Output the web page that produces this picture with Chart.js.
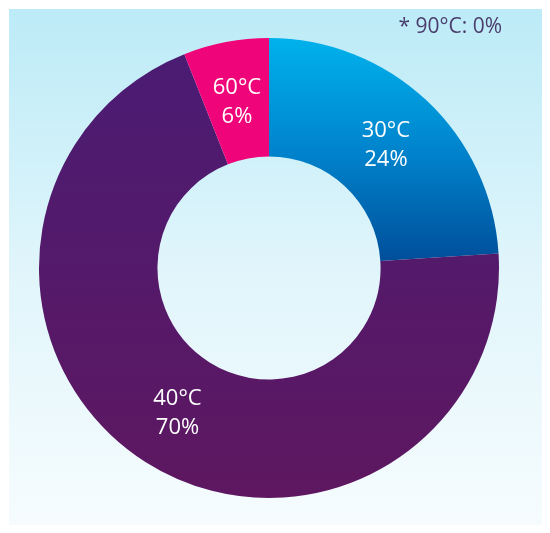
<!DOCTYPE html>
<html>
<head>
<meta charset="utf-8">
<script src="https://cdn.jsdelivr.net/npm/chart.js@4.4.1/dist/chart.umd.min.js"></script>
<style>
  html, body { margin: 0; padding: 0; background: #ffffff; }
  #wrap { width: 550px; height: 533px; }
</style>
</head>
<body>
<div id="wrap"><canvas id="c" width="550" height="533"></canvas></div>
<script>
const categories = ['30°C', '40°C', '60°C', '90°C'];
const shares = [24, 70, 6, 0];
const footnoteCategory = '90°C';

const FONT = '"Open Sans", "Noto Sans", sans-serif';

function segColor(ctx) {
  const chart = ctx.chart;
  const area = chart.chartArea;
  if (!area) return '#521a6a';
  const c = chart.ctx;
  const i = ctx.dataIndex;
  if (i === 0) {
    const g = c.createLinearGradient(0, area.top, 0, area.top + area.height / 2);
    g.addColorStop(0, '#00b2ec');
    g.addColorStop(0.5, '#0083cc');
    g.addColorStop(1, '#004b97');
    return g;
  }
  if (i === 1) {
    const g = c.createLinearGradient(0, area.top, 0, area.bottom);
    g.addColorStop(0, '#4a1c74');
    g.addColorStop(1, '#5e1760');
    return g;
  }
  if (i === 2) return '#ef0579';
  return '#888888';
}

const bgPlugin = {
  id: 'bg',
  beforeDraw(chart) {
    const c = chart.ctx;
    c.save();
    c.fillStyle = '#ffffff';
    c.fillRect(0, 0, chart.width, chart.height);
    const g = c.createLinearGradient(0, 9, 0, 525);
    g.addColorStop(0, '#bcebf7');
    g.addColorStop(0.5, '#e0f5fb');
    g.addColorStop(1, '#f6fcfe');
    c.fillStyle = g;
    c.fillRect(9, 9, 533, 516);
    c.restore();
  }
};

const labelPlugin = {
  id: 'labels',
  afterDatasetsDraw(chart) {
    const c = chart.ctx;
    const meta = chart.getDatasetMeta(0);
    c.save();
    c.fillStyle = '#ffffff';
    c.font = '22px ' + FONT;
    c.textAlign = 'center';
    c.textBaseline = 'middle';
    meta.data.forEach((arc, i) => {
      const v = chart.data.datasets[0].data[i];
      if (!v) return;
      const p = arc.tooltipPosition();
      c.fillText(chart.data.labels[i], p.x, p.y - 13);
      c.fillText(v + '%', p.x, p.y + 16);
    });
    const idx = chart.data.labels.indexOf(footnoteCategory);
    const val = chart.data.datasets[0].data[idx];
    c.fillStyle = '#4a3d6c';
    c.font = '21px ' + FONT;
    c.textAlign = 'right';
    c.textBaseline = 'alphabetic';
    c.fillText('* ' + footnoteCategory + ': ' + val + '%', 502, 33);
    c.restore();
  }
};

new Chart(document.getElementById('c'), {
  type: 'doughnut',
  data: {
    labels: categories,
    datasets: [{
      data: shares,
      backgroundColor: segColor,
      borderWidth: 0,
      hoverOffset: 0
    }]
  },
  options: {
    responsive: false,
    animation: false,
    cutout: '48.5%',
    layout: { padding: { left: 39, right: 51, top: 37, bottom: 34 } },
    plugins: {
      legend: { display: false },
      tooltip: { enabled: false }
    }
  },
  plugins: [bgPlugin, labelPlugin]
});
</script>
</body>
</html>
